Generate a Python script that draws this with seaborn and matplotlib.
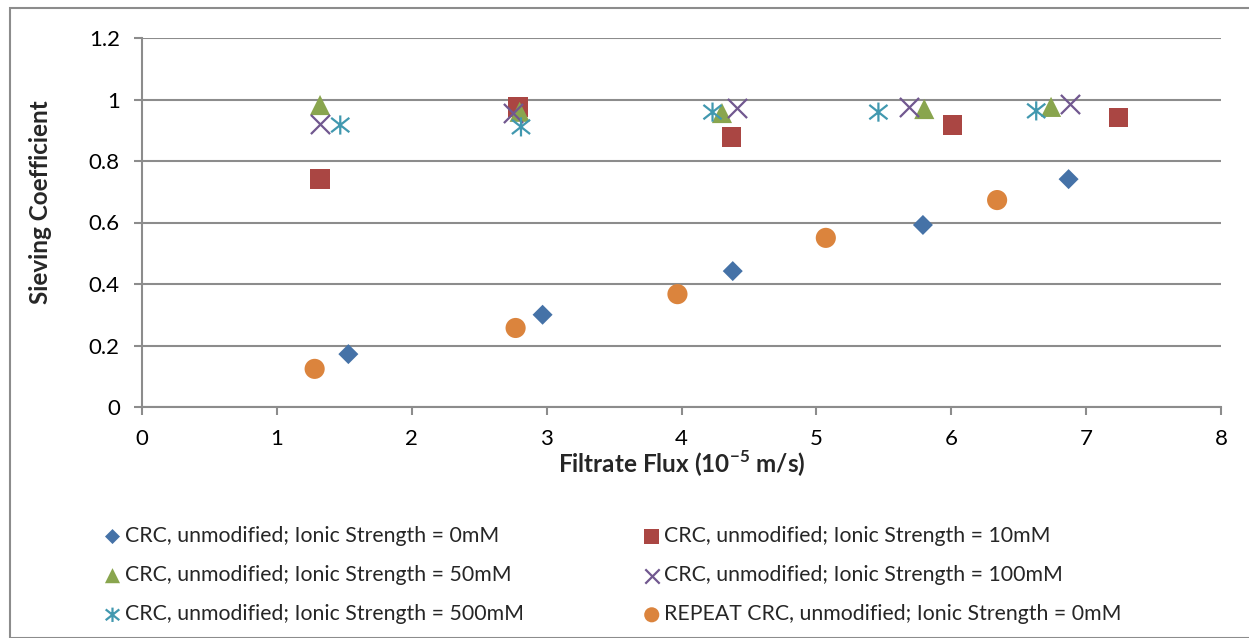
import numpy as np
import pandas as pd
import matplotlib
matplotlib.use("Agg")
import matplotlib.pyplot as plt
from matplotlib.path import Path
from matplotlib.patches import Rectangle
import seaborn as sns

# Filtrate flux (1e-5 m/s) and sieving coefficient for each ionic strength
flux_0mM = [1.53, 2.97, 4.38, 5.79, 6.87]
sc_0mM = [0.172, 0.300, 0.442, 0.592, 0.741]

flux_10mM = [1.32, 2.79, 4.37, 6.01, 7.24]
sc_10mM = [0.741, 0.976, 0.878, 0.917, 0.942]

flux_50mM = [1.32, 2.80, 4.30, 5.80, 6.74]
sc_50mM = [0.982, 0.960, 0.956, 0.969, 0.976]

flux_100mM = [1.32, 2.75, 4.41, 5.69, 6.88]
sc_100mM = [0.920, 0.956, 0.972, 0.976, 0.985]

flux_500mM = [1.47, 2.81, 4.23, 5.46, 6.63]
sc_500mM = [0.917, 0.911, 0.959, 0.959, 0.963]

flux_repeat = [1.28, 2.77, 3.97, 5.07, 6.34]
sc_repeat = [0.124, 0.257, 0.367, 0.550, 0.673]

series_labels = [
    "CRC, unmodified; Ionic Strength = 0mM",
    "CRC, unmodified; Ionic Strength = 10mM",
    "CRC, unmodified; Ionic Strength = 50mM",
    "CRC, unmodified; Ionic Strength = 100mM",
    "CRC, unmodified; Ionic Strength = 500mM",
    "REPEAT CRC, unmodified; Ionic Strength = 0mM",
]

x_ticks = [0, 1, 2, 3, 4, 5, 6, 7, 8]
y_ticks = [0, 0.2, 0.4, 0.6, 0.8, 1.0, 1.2]
y_tick_labels = ["0", "0.2", "0.4", "0.6", "0.8", "1", "1.2"]

# Asterisk marker: vertical stroke plus a flattened X
star = Path(
    [(0, -1), (0, 1), (-0.95, -0.75), (0.95, 0.75), (-0.95, 0.75), (0.95, -0.75)],
    [Path.MOVETO, Path.LINETO, Path.MOVETO, Path.LINETO, Path.MOVETO, Path.LINETO],
)

colors = ["#4572A7", "#AA4643", "#89A54E", "#71588F", "#4198AF", "#DB843D"]
styles = [
    dict(marker="D", s=104, edgecolor="none"),
    dict(marker="s", s=200, edgecolor="none"),
    dict(marker="^", s=210, edgecolor="none"),
    dict(marker="x", s=190, linewidth=1.6),
    dict(marker=star, s=190, linewidth=1.6, edgecolor="#4198AF", facecolor="none"),
    dict(marker="o", s=210, edgecolor="none"),
]

data = [
    (flux_0mM, sc_0mM),
    (flux_10mM, sc_10mM),
    (flux_50mM, sc_50mM),
    (flux_100mM, sc_100mM),
    (flux_500mM, sc_500mM),
    (flux_repeat, sc_repeat),
]

sns.set_theme(style="white")
plt.rcParams["font.family"] = ["Lato", "DejaVu Sans"]
plt.rcParams["mathtext.fontset"] = "custom"
plt.rcParams["mathtext.rm"] = "Lato"
plt.rcParams["mathtext.bf"] = "Lato:bold"

fig = plt.figure(figsize=(12.49, 6.38), dpi=100)
ax = fig.add_axes([142 / 1249, 1 - 407 / 638, (1221 - 142) / 1249, (407 - 38) / 638])

grid_color = "#8c8c8c"

for (xs, ys), lab, col, st in zip(data, series_labels, colors, styles):
    df = pd.DataFrame({"flux": xs, "sc": ys})
    sns.scatterplot(data=df, x="flux", y="sc", ax=ax, color=col, label=lab,
                    zorder=3, clip_on=False, **st)

ax.set_xlim(0, 8)
ax.set_ylim(0, 1.2)
ax.set_xticks(x_ticks)
ax.set_xticklabels([str(t) for t in x_ticks])
ax.set_yticks(y_ticks)
ax.set_yticklabels(y_tick_labels)
ax.yaxis.grid(True, color=grid_color, linewidth=1.5)
ax.xaxis.grid(False)
ax.set_axisbelow(True)

for side in ["top", "right"]:
    ax.spines[side].set_visible(False)
for side in ["left", "bottom"]:
    ax.spines[side].set_color(grid_color)
    ax.spines[side].set_linewidth(1.5)

ax.tick_params(axis="both", which="major", direction="out", length=6, width=1.5,
               color=grid_color, labelsize=16, labelcolor="#000000")
ax.tick_params(axis="x", pad=10, bottom=True)
ax.tick_params(axis="y", pad=10, left=True)

ax.set_xlabel("Filtrate Flux (10$^{\\mathbf{-5}}$ m/s)", fontsize=17.5,
              fontweight="bold", labelpad=0)
ax.set_ylabel("Sieving Coefficient", fontsize=17.5, fontweight="bold")
ax.yaxis.set_label_coords(-0.0834, 0.556)

# Legend laid out row-wise in two columns
handles, labels = ax.get_legend_handles_labels()
ax.get_legend().remove()
order = [0, 2, 4, 1, 3, 5]
leg = fig.legend([handles[i] for i in order], [labels[i] for i in order],
                 ncol=2, frameon=False, fontsize=15.3, markerscale=0.75,
                 handlelength=0.6, handletextpad=0.3, columnspacing=5.7,
                 labelspacing=0.9, loc="upper left",
                 bbox_to_anchor=(87 / 1249, 1 - 507 / 638))

# Outer chart border
fig.patches.append(Rectangle((10 / 1249, 0), 1.2, 1 - 8 / 638, transform=fig.transFigure,
                             fill=False, edgecolor="#8c8c8c", linewidth=1.5, clip_on=False))

fig.savefig("out.png", dpi=100)
